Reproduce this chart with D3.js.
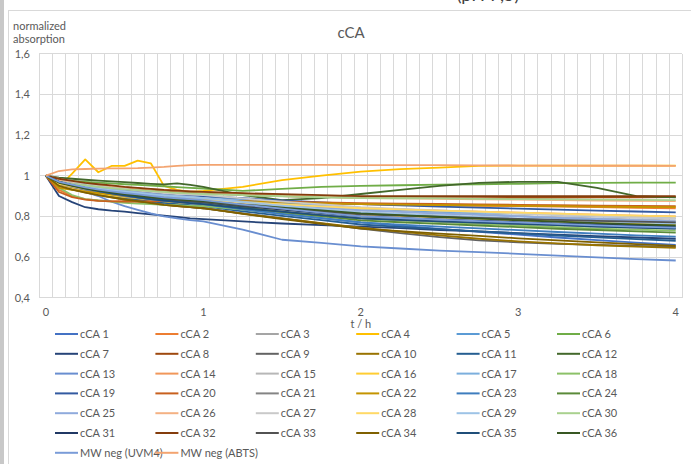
<!DOCTYPE html>
<html>
<head>
<meta charset="utf-8">
<script src="https://cdn.jsdelivr.net/npm/d3@7/dist/d3.min.js"></script>
<style>
body{margin:0;background:#fff;}
svg{display:block;font-family:Lato,"Liberation Sans",sans-serif;}
</style>
</head>
<body>
<script>
// sampling times in minutes (5 min steps in the first hour, then 15 min)
var minutes = [0,5,10,15,20,25,30,35,40,45,50,55,60,75,90,105,120,135,150,165,180,195,210,225,240];

var s1  = [1,.96,.944,.93,.918,.908,.899,.891,.883,.876,.87,.865,.86,.835,.812,.791,.77,.754,.738,.724,.71,.696,.683,.671,.66];
var s2  = [1,.93,.90,.885,.878,.875,.874,.874,.873,.872,.871,.870,.870,.868,.866,.863,.860,.857,.854,.852,.85,.848,.845,.842,.84];
var s3  = [1,.97,.956,.943,.932,.923,.915,.908,.901,.894,.889,.885,.88,.863,.848,.834,.82,.811,.803,.795,.787,.78,.773,.766,.76];
var s4  = [1,.945,1.01,1.08,1.017,1.048,1.048,1.074,1.061,.95,.93,.92,.925,.945,.978,1.0,1.02,1.032,1.04,1.048,1.05,1.05,1.05,1.05,1.05];
var s5  = [1,.98,.967,.956,.946,.938,.931,.925,.918,.913,.908,.904,.90,.883,.868,.854,.84,.83,.82,.811,.801,.793,.785,.777,.77];
var s6  = [1,.98,.975,.97,.966,.962,.958,.955,.951,.948,.944,.94,.937,.925,.935,.945,.95,.953,.956,.958,.96,.963,.965,.966,.966];
var s7  = [1,.90,.87,.845,.835,.828,.823,.816,.81,.804,.797,.79,.786,.775,.765,.757,.75,.742,.733,.726,.718,.71,.703,.696,.69];
var s8  = [1,.98,.97,.962,.955,.948,.942,.937,.932,.927,.922,.917,.912,.906,.90,.895,.892,.89,.89,.89,.891,.892,.893,.894,.895];
var s9  = [1,.96,.941,.924,.91,.898,.887,.877,.868,.859,.852,.846,.84,.815,.79,.765,.74,.718,.698,.682,.672,.665,.66,.655,.65];
var s10 = [1,.95,.933,.918,.905,.893,.883,.873,.865,.857,.85,.845,.84,.813,.79,.767,.745,.725,.707,.69,.677,.667,.658,.651,.645];
var s11 = [1,.96,.942,.927,.914,.903,.893,.884,.875,.867,.861,.855,.85,.825,.802,.781,.76,.748,.737,.726,.716,.706,.697,.688,.68];
var s12 = [1,.99,.985,.98,.976,.972,.968,.964,.96,.957,.962,.955,.945,.905,.88,.89,.91,.93,.95,.965,.97,.97,.94,.90,.893];
var s13 = [1,.96,.94,.92,.90,.872,.85,.832,.815,.80,.79,.782,.775,.735,.685,.67,.652,.642,.632,.624,.616,.607,.598,.59,.583];
var s14 = [1,.95,.939,.929,.921,.914,.907,.901,.896,.891,.887,.883,.88,.869,.859,.849,.84,.834,.828,.823,.818,.813,.808,.804,.80];
var s15 = [1,.97,.957,.946,.936,.928,.921,.915,.908,.902,.898,.894,.89,.873,.858,.844,.83,.822,.815,.809,.802,.796,.79,.785,.78];
var s16 = [1,.95,.936,.923,.912,.903,.895,.888,.881,.874,.869,.865,.86,.846,.834,.821,.81,.803,.795,.789,.782,.776,.77,.765,.76];
var s17 = [1,.98,.967,.956,.946,.938,.931,.925,.918,.913,.908,.904,.90,.883,.868,.854,.84,.833,.826,.819,.813,.807,.80,.795,.79];
var s18 = [1,.94,.905,.885,.878,.872,.867,.863,.86,.857,.855,.852,.85,.833,.817,.803,.79,.781,.772,.763,.755,.747,.74,.735,.73];
var s19 = [1,.98,.967,.956,.946,.938,.931,.925,.918,.913,.908,.904,.90,.889,.879,.869,.86,.854,.848,.843,.838,.833,.828,.824,.82];
var s20 = [1,.92,.895,.882,.876,.874,.873,.873,.874,.875,.876,.877,.877,.875,.872,.869,.865,.863,.861,.859,.857,.855,.853,.851,.85];
var s21 = [1,.96,.944,.93,.918,.908,.899,.891,.883,.876,.87,.865,.86,.84,.823,.806,.79,.783,.775,.769,.763,.757,.75,.745,.74];
var s22 = [1,.94,.93,.922,.915,.908,.903,.898,.894,.89,.887,.884,.88,.875,.869,.864,.86,.858,.856,.854,.852,.85,.848,.846,.845];
var s23 = [1,.97,.952,.937,.924,.913,.903,.894,.885,.878,.871,.865,.86,.835,.812,.791,.77,.759,.75,.741,.732,.723,.715,.707,.70];
var s24 = [1,.97,.954,.94,.928,.918,.909,.901,.893,.886,.88,.875,.87,.845,.822,.801,.78,.771,.763,.755,.747,.739,.733,.726,.72];
var s25 = [1,.98,.966,.953,.942,.933,.925,.918,.911,.904,.899,.895,.89,.873,.858,.844,.83,.822,.814,.807,.80,.793,.787,.781,.775];
var s26 = [1,.98,.97,.962,.955,.949,.943,.938,.934,.93,.926,.923,.92,.912,.904,.897,.89,.888,.886,.884,.882,.88,.878,.876,.875];
var s27 = [1,.985,.972,.961,.95,.94,.935,.927,.92,.915,.91,.907,.905,.888,.873,.859,.845,.837,.829,.822,.814,.808,.801,.795,.79];
var s28 = [1,.96,.947,.936,.926,.918,.911,.905,.898,.893,.888,.884,.88,.869,.859,.849,.84,.834,.828,.823,.818,.813,.808,.804,.80];
var s29 = [1,.97,.957,.946,.936,.928,.921,.915,.908,.902,.898,.894,.89,.87,.853,.836,.82,.812,.804,.797,.79,.783,.776,.77,.765];
var s30 = [1,.97,.96,.952,.945,.939,.933,.929,.924,.92,.916,.913,.91,.904,.899,.894,.89,.889,.888,.886,.885,.884,.882,.881,.88];
var s31 = [1,.97,.954,.94,.928,.918,.909,.901,.893,.886,.88,.875,.87,.85,.833,.816,.80,.792,.785,.779,.772,.766,.76,.755,.75];
var s32 = [1,.985,.975,.965,.958,.952,.945,.94,.935,.93,.927,.923,.92,.914,.909,.904,.90,.90,.90,.90,.90,.90,.90,.90,.90];
var s33 = [1,.97,.954,.94,.928,.918,.909,.901,.893,.886,.88,.875,.87,.853,.838,.824,.81,.804,.798,.793,.788,.783,.778,.774,.77];
var s34 = [1,.95,.932,.917,.904,.893,.883,.875,.865,.857,.851,.845,.84,.812,.787,.763,.74,.727,.715,.704,.692,.682,.672,.663,.655];
var s35 = [1,.97,.952,.937,.924,.913,.903,.894,.885,.878,.871,.865,.86,.84,.823,.806,.79,.783,.775,.769,.763,.757,.75,.745,.74];
var s36 = [1,.965,.95,.938,.927,.918,.91,.902,.895,.889,.884,.879,.875,.858,.843,.829,.815,.806,.797,.789,.781,.774,.767,.761,.755];
var mwUVM4 = [1,.97,.956,.943,.932,.923,.915,.908,.901,.894,.889,.885,.88,.858,.838,.818,.80,.792,.784,.777,.77,.763,.756,.75,.745];
var mwABTS = [1,1.023,1.031,1.033,1.035,1.036,1.036,1.037,1.04,1.043,1.048,1.052,1.053,1.053,1.053,1.053,1.052,1.052,1.052,1.051,1.05,1.05,1.049,1.049,1.048];

var seriesValues = [s1,s2,s3,s4,s5,s6,s7,s8,s9,s10,s11,s12,s13,s14,s15,s16,s17,s18,
  s19,s20,s21,s22,s23,s24,s25,s26,s27,s28,s29,s30,s31,s32,s33,s34,s35,s36,mwUVM4,mwABTS];

var seriesNames = [];
for (var i = 1; i <= 36; i++) seriesNames.push("cCA " + i);
seriesNames.push("MW neg (UVM4)", "MW neg (ABTS)");

var colors = [
  "#4472C4","#ED7D31","#A5A5A5","#FFC000","#5B9BD5","#70AD47",
  "#264478","#9E480E","#636363","#997300","#255E91","#43682B",
  "#698ED0","#F1975A","#B7B7B7","#FFCD33","#7CAFDD","#8CC168",
  "#335AA1","#C8601E","#848484","#C49400","#3E7DBE","#5A8A39",
  "#8FAADC","#F4B183","#C9C9C9","#FFD966","#9DC3E6","#A9D18E",
  "#203864","#843C0C","#525252","#7F6000","#1F4E79","#385723",
  "#7A9CD8","#F3A470"];

var yTicks = [0.4,0.6,0.8,1,1.2,1.4,1.6];
var xTickHours = [0,1,2,3,4];

var W = 691, H = 464;
var svg = d3.select("body").append("svg").attr("width", W).attr("height", H);

// page frame bits
svg.append("rect").attr("x",0).attr("y",0).attr("width",4).attr("height",H).attr("fill","#c8c8c8");
svg.append("rect").attr("x",8.5).attr("y",10.5).attr("width",700).attr("height",470)
  .attr("fill","none").attr("stroke","#d9d9d9");
// bottom of the sheet title, cut off above the chart
svg.append("text").attr("x",488).attr("y",1).attr("text-anchor","middle")
  .attr("font-size",18).attr("fill","#404040").text("(pH 7,5)");

var x = d3.scaleLinear().domain([-2.5, 242.5]).range([39.3, 682.3]);
var y = d3.scaleLinear().domain([0.4, 1.6]).range([297.7, 53.7]);

// gridlines
var vgrid = d3.range(0, 50).map(function(k){ return k*5 - 2.5; });
svg.append("g").selectAll("line").data(vgrid).enter().append("line")
  .attr("x1", function(d){ return x(d); }).attr("x2", function(d){ return x(d); })
  .attr("y1", y(1.6)).attr("y2", y(0.4))
  .attr("stroke","#d9d9d9").attr("stroke-width",1).attr("shape-rendering","crispEdges");
svg.append("g").selectAll("line").data(yTicks).enter().append("line")
  .attr("x1", x(-2.5)).attr("x2", x(242.5))
  .attr("y1", function(d){ return y(d); }).attr("y2", function(d){ return y(d); })
  .attr("stroke","#d9d9d9").attr("stroke-width",1).attr("shape-rendering","crispEdges");

// tick labels
var fmt = function(v){ return String(v).replace(".", ","); };
svg.append("g").selectAll("text").data(yTicks).enter().append("text")
  .attr("x", 30).attr("y", function(d){ return y(d) + 4; })
  .attr("text-anchor","end").attr("font-size",11).attr("fill","#595959")
  .text(fmt);
svg.append("g").selectAll("text").data(xTickHours).enter().append("text")
  .attr("x", function(d){ return x(d*60); }).attr("y", 316)
  .attr("text-anchor","middle").attr("font-size",11).attr("fill","#595959")
  .text(function(d){ return d; });

svg.append("text").attr("x", x(120)).attr("y", 328).attr("text-anchor","middle")
  .attr("font-size",11).attr("fill","#595959").text("t / h");
svg.append("text").attr("x", 13).attr("y", 30).attr("font-size",11).attr("fill","#595959").text("normalized");
svg.append("text").attr("x", 13).attr("y", 43).attr("font-size",11).attr("fill","#595959").text("absorption");
svg.append("text").attr("x", 351).attr("y", 38).attr("text-anchor","middle")
  .attr("font-size",15).attr("fill","#595959").text("cCA");

// series
var line = d3.line()
  .x(function(d, i){ return x(minutes[i]); })
  .y(function(d){ return y(d); });

svg.append("g").selectAll("path").data(seriesValues).enter().append("path")
  .attr("d", line)
  .attr("fill","none")
  .attr("stroke", function(d, i){ return colors[i]; })
  .attr("stroke-width",1.8)
  .attr("stroke-linejoin","round");

// legend
var leg = svg.append("g").selectAll("g").data(seriesNames).enter().append("g")
  .attr("transform", function(d, i){
    return "translate(" + (55 + (i % 6) * 100.4) + "," + (334 + Math.floor(i / 6) * 19.8) + ")";
  });
leg.append("line").attr("x1",0).attr("x2",23).attr("y1",0).attr("y2",0)
  .attr("stroke", function(d, i){ return colors[i]; }).attr("stroke-width",2);
leg.append("text").attr("x",25).attr("y",4).attr("font-size",11).attr("fill","#595959")
  .text(function(d){ return d; });
</script>
</body>
</html>
